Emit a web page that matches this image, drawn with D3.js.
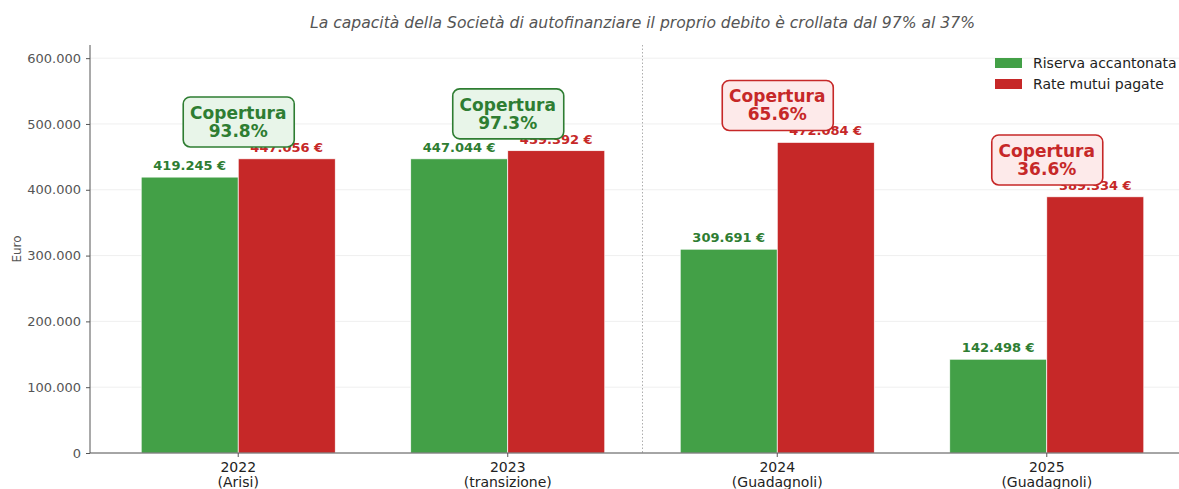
<!DOCTYPE html>
<html>
<head>
<meta charset="utf-8">
<script src="https://cdn.jsdelivr.net/npm/d3@7"></script>
<style>
  body { margin: 0; background: #fff; }
  svg { font-family: "DejaVu Sans", sans-serif; }
</style>
</head>
<body>
<svg id="chart" width="1179" height="489"></svg>
<script>
// data
const years = ["2022", "2023", "2024", "2025"];
const periods = ["(Arisi)", "(transizione)", "(Guadagnoli)", "(Guadagnoli)"];
const reserve = [419245, 447044, 309691, 142498];
const loanPayments = [447056, 459392, 472084, 389334];
const seriesNames = ["Riserva accantonata", "Rate mutui pagate"];
const yTicks = [0, 100000, 200000, 300000, 400000, 500000, 600000];

const green = "#43a047", red = "#c62828";
const darkGreen = "#2e7d32", darkRed = "#c62828";

const svg = d3.select("#chart");
const margin = { left: 90, right: 1195, top: 45, bottom: 453 };

const x = d3.scaleLinear().domain([-0.55, 3.55]).range([margin.left, margin.right]);
const y = d3.scaleLinear().domain([0, 620000]).range([margin.bottom, margin.top]);
const barW = x(0.36) - x(0);

const fmt = v => d3.format(",")(v).replace(/,/g, ".");

// grid
svg.append("g").selectAll("line").data(yTicks).join("line")
  .attr("x1", margin.left).attr("x2", 1179)
  .attr("y1", d => y(d)).attr("y2", d => y(d))
  .attr("stroke", "#ebebeb").attr("stroke-width", 0.8);

// divider between periods
svg.append("line")
  .attr("x1", x(1.5)).attr("x2", x(1.5))
  .attr("y1", margin.top).attr("y2", margin.bottom)
  .attr("stroke", "#999").attr("stroke-width", 0.8)
  .attr("stroke-dasharray", "1.5,2");

// bars
svg.append("g").selectAll("rect").data(reserve).join("rect")
  .attr("x", (d, i) => x(i) - barW).attr("y", d => y(d))
  .attr("width", barW).attr("height", d => y(0) - y(d))
  .attr("fill", green).attr("stroke", "#fff").attr("stroke-width", 0.7);
svg.append("g").selectAll("rect").data(loanPayments).join("rect")
  .attr("x", (d, i) => x(i)).attr("y", d => y(d))
  .attr("width", barW).attr("height", d => y(0) - y(d))
  .attr("fill", red).attr("stroke", "#fff").attr("stroke-width", 0.7);

// value labels
svg.append("g").selectAll("text").data(reserve).join("text")
  .attr("x", (d, i) => x(i) - barW / 2).attr("y", d => y(d) - 7)
  .attr("text-anchor", "middle").attr("font-size", 13).attr("font-weight", "bold")
  .attr("fill", darkGreen).text(d => fmt(d) + " €");
svg.append("g").selectAll("text").data(loanPayments).join("text")
  .attr("x", (d, i) => x(i) + barW / 2).attr("y", d => y(d) - 7)
  .attr("text-anchor", "middle").attr("font-size", 13).attr("font-weight", "bold")
  .attr("fill", darkRed).text(d => fmt(d) + " €");

// coverage boxes
const cover = reserve.map((r, i) => ({ i, pct: r / loanPayments[i] * 100, top: Math.max(r, loanPayments[i]) }));
const boxes = svg.append("g").selectAll("g").data(cover).join("g")
  .attr("transform", d => `translate(${x(d.i)},${y(d.top + 56000)})`);
boxes.append("rect")
  .attr("x", -55).attr("y", -25).attr("width", 111).attr("height", 50)
  .attr("rx", 7)
  .attr("fill", d => d.pct >= 90 ? "#e8f5e9" : "#fdeaea")
  .attr("stroke", d => d.pct >= 90 ? darkGreen : darkRed).attr("stroke-width", 1.6);
boxes.append("text")
  .attr("text-anchor", "middle").attr("font-size", 17).attr("font-weight", "bold")
  .attr("fill", d => d.pct >= 90 ? darkGreen : darkRed)
  .selectAll("tspan").data(d => ["Copertura", d.pct.toFixed(1) + "%"]).join("tspan")
  .attr("x", 0).attr("y", (d, k) => k === 0 ? -3 : 15).text(d => d);

// y axis
const yAxis = svg.append("g").attr("transform", `translate(${margin.left},0)`)
  .call(d3.axisLeft(y).tickValues(yTicks).tickSize(4).tickPadding(5).tickFormat(d => fmt(d)));
yAxis.select(".domain").attr("stroke", "#555").attr("d", `M0,${margin.top}V${margin.bottom}`);
yAxis.selectAll(".tick line").attr("stroke", "#555");
yAxis.selectAll(".tick text").attr("fill", "#555").attr("font-size", 13)
  .attr("font-family", "DejaVu Sans, sans-serif");

// x axis
svg.append("line").attr("x1", margin.left).attr("x2", 1179)
  .attr("y1", margin.bottom).attr("y2", margin.bottom).attr("stroke", "#555");
const xt = svg.append("g").selectAll("g").data(years).join("g")
  .attr("transform", (d, i) => `translate(${x(i)},${margin.bottom})`);
xt.append("line").attr("y2", 4).attr("stroke", "#555");
xt.append("text").attr("text-anchor", "middle").attr("font-size", 14).attr("fill", "#222")
  .selectAll("tspan").data((d, i) => [d, periods[i]]).join("tspan")
  .attr("x", 0).attr("y", (d, k) => k === 0 ? 19 : 34).text(d => d);

// y label
svg.append("text").attr("transform", `translate(21,${(margin.top + margin.bottom) / 2}) rotate(-90)`)
  .attr("text-anchor", "middle").attr("font-size", 12).attr("fill", "#555").text("Euro");

// title
svg.append("text").attr("x", (margin.left + margin.right) / 2).attr("y", 28)
  .attr("text-anchor", "middle").attr("font-size", 15.6).attr("font-style", "italic")
  .attr("fill", "#555").text("La capacità della Società di autofinanziare il proprio debito è crollata dal 97% al 37%");

// legend
const leg = svg.append("g").attr("transform", "translate(995,58)");
const legItems = leg.selectAll("g").data(seriesNames).join("g")
  .attr("transform", (d, i) => `translate(0,${i * 21})`);
legItems.append("rect").attr("width", 27).attr("height", 10)
  .attr("fill", (d, i) => i === 0 ? green : red);
legItems.append("text").attr("x", 38).attr("y", 10).attr("font-size", 14).attr("fill", "#222").text(d => d);
</script>
</body>
</html>
